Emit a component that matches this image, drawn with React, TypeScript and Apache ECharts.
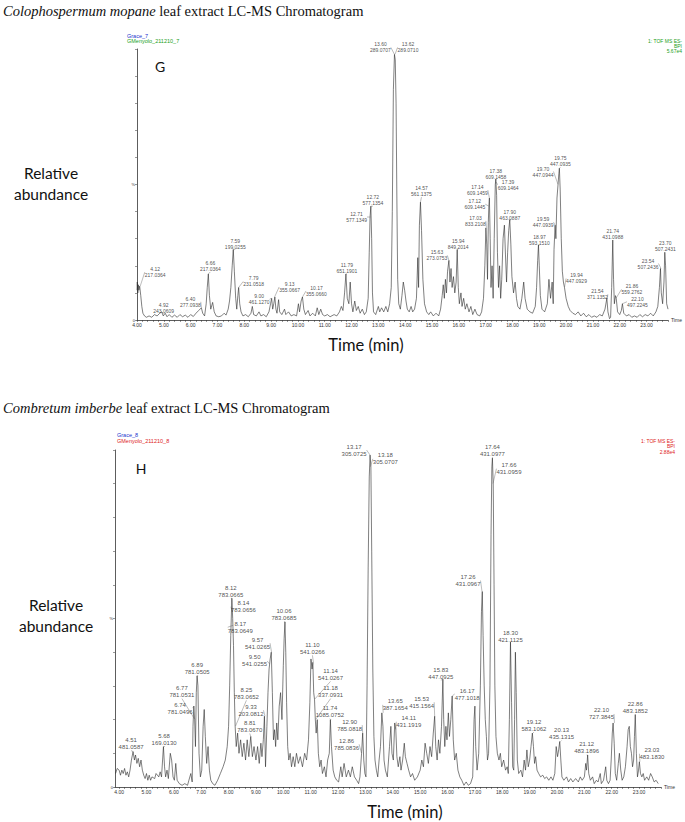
import React, { useEffect, useRef } from "react";
import * as echarts from "echarts";

// ---------- Chart G: Colophospermum mopane ----------
const gTrace: [number, number][] = [
  [4.0, 11], [4.01, 14], [4.03, 10], [4.05, 13], [4.07, 11], [4.10, 12.5], [4.14, 9], [4.18, 5], [4.22, 2.5], [4.28, 1.5],
  [4.35, 1], [4.45, 1.5], [4.55, 1], [4.65, 2], [4.75, 1.5], [4.85, 2.5], [4.92, 3], [4.98, 1.5], [5.05, 2.5], [5.12, 1.2],
  [5.2, 2], [5.3, 1], [5.4, 1.8], [5.5, 1], [5.6, 2], [5.7, 1.2], [5.8, 1.8], [5.9, 1], [6.0, 2], [6.1, 1.3],
  [6.2, 2.5], [6.3, 3.5], [6.4, 4.5], [6.45, 2.5], [6.52, 1.5], [6.58, 6], [6.62, 12], [6.66, 17], [6.70, 9], [6.75, 4],
  [6.82, 6.5], [6.88, 3], [6.95, 1.5], [7.05, 1.2], [7.15, 1.5], [7.25, 2.5], [7.32, 1.8], [7.40, 4], [7.45, 7], [7.50, 12],
  [7.55, 20], [7.59, 26], [7.63, 18], [7.68, 8], [7.72, 4], [7.76, 9], [7.79, 12], [7.83, 6], [7.88, 3], [7.95, 1.5],
  [8.05, 2], [8.15, 1.2], [8.25, 2.5], [8.30, 5], [8.35, 2], [8.45, 1.5], [8.55, 3], [8.62, 1.5], [8.72, 2], [8.82, 1.2],
  [8.92, 3], [8.98, 6], [9.02, 8], [9.06, 4], [9.10, 6], [9.14, 8.5], [9.18, 4], [9.22, 2.5], [9.28, 7.5], [9.32, 3],
  [9.40, 2], [9.5, 4], [9.55, 2], [9.65, 3], [9.75, 1.5], [9.85, 2], [9.95, 1.5], [10.02, 6], [10.06, 3], [10.12, 7],
  [10.17, 8.5], [10.22, 4], [10.28, 2], [10.38, 3.5], [10.45, 1.5], [10.55, 2.5], [10.65, 1.5], [10.72, 4.5], [10.78, 2], [10.85, 4],
  [10.92, 2], [11.0, 1.5], [11.1, 2], [11.2, 1.2], [11.35, 2], [11.45, 1.5], [11.55, 3], [11.62, 5], [11.68, 3.5], [11.74, 10],
  [11.79, 17], [11.84, 8], [11.90, 6], [11.95, 14], [12.0, 6], [12.05, 3], [12.12, 7], [12.18, 3.5], [12.25, 5], [12.32, 2.5],
  [12.4, 4], [12.48, 2], [12.55, 3], [12.62, 8], [12.66, 25], [12.69, 38], [12.72, 42], [12.75, 30], [12.78, 10], [12.82, 3],
  [12.9, 2], [13.0, 5], [13.05, 3], [13.12, 4.5], [13.2, 3], [13.28, 5], [13.35, 3], [13.42, 6], [13.48, 12], [13.52, 40],
  [13.56, 85], [13.60, 98], [13.63, 96], [13.66, 80], [13.69, 45], [13.72, 15], [13.76, 6], [13.82, 4], [13.88, 9], [13.93, 14],
  [13.98, 11], [14.03, 7], [14.08, 4], [14.15, 3], [14.22, 5], [14.28, 3], [14.35, 4], [14.42, 8], [14.47, 23], [14.50, 12],
  [14.53, 35], [14.57, 43.5], [14.61, 33], [14.66, 15], [14.72, 6], [14.80, 3], [14.88, 2], [14.95, 3], [15.05, 1.5], [15.15, 2.5],
  [15.25, 1.5], [15.32, 4], [15.38, 9], [15.42, 13], [15.46, 8], [15.5, 15], [15.54, 10], [15.58, 18], [15.63, 22], [15.67, 14],
  [15.71, 19], [15.75, 12], [15.8, 16], [15.85, 10], [15.9, 14], [15.94, 26], [15.98, 12], [16.02, 6], [16.08, 10], [16.12, 5],
  [16.18, 8], [16.24, 4], [16.30, 6], [16.38, 3], [16.45, 5], [16.52, 2], [16.6, 4], [16.68, 2], [16.78, 1.5], [16.85, 3],
  [16.92, 8], [16.97, 20], [17.01, 34], [17.04, 28], [17.07, 15], [17.1, 36], [17.12, 42], [17.14, 45], [17.17, 30], [17.2, 12],
  [17.24, 20], [17.28, 8], [17.32, 30], [17.36, 50], [17.38, 52], [17.41, 46], [17.44, 25], [17.48, 12], [17.52, 20], [17.56, 8],
  [17.6, 15], [17.65, 30], [17.70, 35], [17.74, 24], [17.78, 14], [17.82, 25], [17.86, 33], [17.90, 37], [17.94, 28], [17.98, 16],
  [18.04, 10], [18.1, 14], [18.15, 8], [18.2, 5], [18.28, 4], [18.35, 8], [18.42, 14], [18.47, 8], [18.55, 4], [18.65, 3],
  [18.75, 2.5], [18.85, 5], [18.90, 12], [18.94, 22], [18.97, 27.7], [19.0, 20], [19.04, 9], [19.1, 4], [19.2, 3], [19.3, 6],
  [19.36, 15], [19.42, 8], [19.48, 14], [19.52, 6], [19.55, 26], [19.59, 35], [19.62, 30], [19.66, 45], [19.70, 50], [19.73, 54],
  [19.75, 56], [19.78, 48], [19.82, 30], [19.86, 18], [19.90, 14], [19.94, 12], [20.0, 8], [20.08, 5], [20.15, 3.5], [20.25, 2.5],
  [20.35, 2], [20.45, 3], [20.55, 1.5], [20.65, 2.5], [20.75, 1.2], [20.85, 2], [20.95, 1], [21.05, 1.5], [21.15, 1], [21.25, 2],
  [21.35, 1.5], [21.45, 4], [21.52, 8], [21.56, 3], [21.62, 0.5], [21.66, 1], [21.70, 12], [21.74, 29.5], [21.77, 15], [21.80, 6],
  [21.84, 9], [21.87, 8], [21.92, 3], [22.0, 2], [22.06, 3.5], [22.10, 6], [22.15, 2.5], [22.25, 1.5], [22.35, 2], [22.45, 1],
  [22.55, 1.5], [22.65, 1], [22.75, 2], [22.85, 1.2], [22.95, 2], [23.05, 1.5], [23.15, 2.5], [23.25, 1.5], [23.35, 3], [23.42, 5],
  [23.48, 12], [23.52, 19], [23.55, 10], [23.60, 6], [23.65, 14], [23.68, 25], [23.71, 20], [23.75, 6], [23.8, 4],
];

const gPeakRt = [4.12, 4.92, 6.40, 6.66, 7.59, 7.79, 9.00, 9.13, 10.17, 11.79, 12.71, 12.72, 13.60, 13.62, 14.57, 15.63, 15.94,
  17.03, 17.12, 17.14, 17.38, 17.39, 17.90, 18.97, 19.59, 19.70, 19.75, 19.94, 21.54, 21.74, 21.86, 22.10, 23.54, 23.70];
const gPeakMz = ["217.0364", "243.0609", "277.0938", "217.0364", "199.0255", "231.0518", "461.1270", "355.0667", "355.0660",
  "651.1901", "577.1349", "577.1354", "289.0707", "289.0710", "561.1375", "273.0753", "849.2014", "833.2108", "609.1445",
  "609.1459", "609.1458", "609.1464", "463.0887", "593.1510", "447.0939", "447.0944", "447.0935", "447.0929", "371.1352",
  "431.0988", "559.2762", "497.2245", "507.2436", "507.2431"];
const gPeakAbund = [12.5, 3, 4.5, 17, 26, 12, 8, 8.5, 8.5, 17, 38, 42, 98, 98, 43.5, 22, 26, 34, 42, 45, 52, 51, 37, 27.7, 35, 50,
  56, 12, 8, 29.5, 8, 6, 19, 25];
// layout: label offsets in px from the peak point
const gLabelOffset = [[15, -14], [2, -4], [-11, -6], [2, -8], [2, -6], [15, -6], [-12, 1], [15, -10], [14, -6], [1, -6], [-14, 0],
  [2, -6], [-14, -7], [13, -7], [1, -11], [-12, -5], [1, -6], [-11, -7], [-14, -2], [-12, -8], [0, -5], [12, 3], [0, -5], [1, -5],
  [-12, -3], [-15, -13], [1, -7], [12, -9], [-10, -4], [0, -6], [16, -9], [15, -2], [-13, -5], [0, -6]];

// ---------- Chart H: Combretum imberbe ----------
const hTrace: [number, number][] = [
  [3.87, 4], [3.93, 5.5], [4.0, 5], [4.05, 3.5], [4.1, 5], [4.15, 4], [4.2, 5.5], [4.25, 3.5], [4.3, 4.5], [4.35, 3],
  [4.4, 5], [4.45, 8], [4.51, 10.5], [4.56, 8], [4.6, 9.5], [4.65, 7], [4.7, 8.5], [4.75, 6], [4.8, 8], [4.85, 5],
  [4.9, 3.5], [4.95, 2.5], [5.0, 4], [5.05, 2], [5.1, 3.5], [5.15, 2], [5.2, 3], [5.3, 2.5], [5.35, 4], [5.45, 3],
  [5.5, 4.5], [5.55, 3], [5.62, 12], [5.66, 6], [5.7, 3], [5.75, 5], [5.8, 2.5], [5.87, 10], [5.92, 8], [5.97, 3],
  [6.02, 2], [6.07, 7], [6.12, 2], [6.2, 1], [6.3, 0.5], [6.4, 1], [6.5, 0.5], [6.55, 2], [6.62, 4], [6.67, 1.5],
  [6.70, 18], [6.73, 24], [6.76, 20], [6.79, 12], [6.82, 28], [6.85, 33], [6.88, 30], [6.92, 10], [6.97, 3], [7.02, 5],
  [7.07, 18], [7.11, 23], [7.15, 15], [7.2, 7], [7.25, 12], [7.3, 5], [7.35, 2], [7.42, 1], [7.5, 0.5], [7.6, 2],
  [7.7, 4], [7.8, 6], [7.88, 8], [7.95, 12], [8.0, 18], [8.04, 30], [8.08, 45], [8.12, 56], [8.15, 50], [8.18, 42],
  [8.21, 28], [8.24, 18], [8.28, 12], [8.33, 16], [8.38, 10], [8.44, 14], [8.5, 9], [8.56, 13], [8.62, 8], [8.68, 14],
  [8.74, 9], [8.81, 15], [8.87, 9], [8.93, 12], [9.0, 8], [9.06, 12], [9.12, 7], [9.18, 13], [9.22, 9], [9.27, 14],
  [9.31, 21], [9.35, 6], [9.4, 18], [9.44, 28], [9.48, 35], [9.52, 38], [9.56, 40], [9.6, 28], [9.64, 14], [9.68, 17],
  [9.72, 12], [9.76, 19], [9.8, 14], [9.85, 24], [9.9, 28], [9.95, 20], [10.0, 36], [10.03, 44], [10.06, 49], [10.09, 40],
  [10.12, 25], [10.16, 12], [10.2, 8], [10.25, 10], [10.3, 6], [10.36, 9], [10.42, 6], [10.48, 10], [10.55, 7], [10.62, 9],
  [10.7, 6], [10.78, 10], [10.85, 8], [10.92, 14], [10.97, 25], [11.01, 38], [11.05, 35], [11.08, 37], [11.11, 28], [11.14, 26],
  [11.17, 20], [11.2, 16], [11.24, 20], [11.28, 10], [11.33, 6], [11.38, 8], [11.43, 4], [11.5, 6], [11.56, 3], [11.62, 8],
  [11.68, 10], [11.72, 20], [11.76, 12], [11.82, 5], [11.88, 3], [11.95, 2], [12.02, 1.5], [12.1, 6], [12.15, 3], [12.22, 7],
  [12.3, 3], [12.38, 5], [12.45, 3], [12.52, 6], [12.6, 3], [12.68, 2], [12.75, 1], [12.8, 3], [12.86, 10], [12.9, 16],
  [12.94, 8], [12.98, 4], [13.02, 3], [13.06, 30], [13.1, 65], [13.14, 92], [13.17, 98.5], [13.20, 95], [13.23, 70], [13.27, 35],
  [13.31, 15], [13.35, 8], [13.4, 5], [13.45, 3], [13.5, 8], [13.55, 12], [13.6, 22], [13.64, 18], [13.68, 8], [13.73, 5],
  [13.8, 3], [13.88, 12], [13.93, 18], [13.97, 10], [14.02, 8], [14.07, 19], [14.11, 17], [14.15, 9], [14.2, 6], [14.26, 9],
  [14.3, 5], [14.36, 8], [14.42, 13], [14.46, 9], [14.52, 7], [14.58, 5], [14.65, 3], [14.72, 4], [14.8, 2], [14.9, 3],
  [15.0, 5], [15.06, 8], [15.12, 6], [15.18, 13], [15.24, 10], [15.3, 7], [15.36, 12], [15.42, 9], [15.48, 16], [15.53, 21],
  [15.57, 12], [15.62, 8], [15.67, 14], [15.72, 10], [15.78, 18], [15.83, 32], [15.86, 20], [15.9, 12], [15.94, 18], [15.98, 14],
  [16.03, 22], [16.07, 15], [16.12, 20], [16.17, 27], [16.21, 14], [16.26, 8], [16.32, 10], [16.38, 5], [16.45, 3], [16.52, 2],
  [16.6, 0.5], [16.68, 1.5], [16.76, 0.5], [16.84, 1], [16.92, 3], [16.97, 20], [17.0, 24], [17.03, 12], [17.08, 5], [17.14, 10],
  [17.2, 30], [17.24, 52], [17.27, 58], [17.3, 45], [17.34, 30], [17.38, 20], [17.42, 15], [17.46, 8], [17.5, 10], [17.55, 30],
  [17.59, 75], [17.62, 95], [17.64, 97.6], [17.67, 90], [17.7, 60], [17.73, 30], [17.77, 15], [17.82, 10], [17.88, 8], [17.93, 10],
  [17.98, 6], [18.05, 8], [18.12, 5], [18.18, 6], [18.22, 4], [18.26, 20], [18.3, 43], [18.34, 25], [18.38, 6], [18.42, 5],
  [18.45, 20], [18.48, 40], [18.51, 28], [18.55, 8], [18.6, 4], [18.68, 5], [18.74, 3], [18.8, 8], [18.85, 5], [18.9, 11],
  [18.95, 6], [19.0, 8], [19.05, 12], [19.1, 16], [19.14, 12], [19.18, 7], [19.22, 9], [19.27, 5], [19.33, 4], [19.4, 3],
  [19.48, 3.5], [19.55, 2.5], [19.62, 3], [19.7, 2], [19.78, 3], [19.85, 2], [19.92, 4], [19.97, 12], [20.02, 9], [20.06, 11],
  [20.1, 13.5], [20.14, 8], [20.18, 3], [20.25, 2], [20.35, 3], [20.42, 1.5], [20.5, 2.5], [20.58, 1.5], [20.68, 2.5], [20.78, 1.5],
  [20.85, 3], [20.92, 2], [21.0, 3], [21.05, 7], [21.08, 5], [21.12, 9.5], [21.16, 4], [21.22, 2], [21.3, 3], [21.36, 1],
  [21.44, 2], [21.5, 1.5], [21.58, 4], [21.62, 1], [21.7, 2], [21.78, 6], [21.82, 2], [21.88, 1], [21.94, 2], [21.98, 8],
  [22.02, 16], [22.05, 19], [22.09, 13], [22.13, 4], [22.18, 2], [22.24, 7], [22.28, 10], [22.33, 5], [22.38, 2], [22.44, 3],
  [22.5, 6], [22.56, 12], [22.6, 17], [22.64, 18], [22.68, 12], [22.72, 10], [22.76, 6], [22.8, 8], [22.83, 15], [22.86, 21.5],
  [22.9, 10], [22.94, 3], [22.98, 5], [23.01, 7.5], [23.05, 4], [23.1, 3], [23.15, 4], [23.2, 2], [23.28, 3], [23.35, 2],
  [23.42, 4], [23.48, 3], [23.55, 1.5], [23.62, 2], [23.7, 1],
];

const hPeakRt = [4.51, 5.68, 6.74, 6.77, 6.89, 8.12, 8.14, 8.17, 8.25, 8.81, 9.33, 9.50, 9.57, 10.06, 11.10, 11.14, 11.18, 11.74,
  12.86, 12.90, 13.17, 13.18, 13.65, 14.11, 15.53, 15.83, 16.17, 17.26, 17.64, 17.66, 18.30, 19.12, 20.13, 21.12, 22.10, 22.86, 23.03];
const hPeakMz = ["481.0587", "169.0130", "781.0496", "781.0531", "781.0505", "783.0665", "783.0656", "783.0649", "783.0652",
  "783.0670", "203.0812", "541.0255", "541.0265", "783.0685", "541.0266", "541.0267", "337.0931", "1085.0752", "785.0836",
  "785.0818", "305.0725", "305.0707", "387.1654", "431.1919", "415.1564", "447.0925", "477.1018", "431.0967", "431.0977",
  "431.0959", "421.1125", "583.1062", "435.1315", "483.1896", "727.3845", "483.1852", "483.1830"];
const hPeakAbund = [10.5, 12, 24, 20, 33, 56, 52, 48, 18, 15, 21, 36.5, 40, 49, 37, 26, 20, 20, 10, 16, 98.5, 95, 22, 17, 21, 32, 27,
  58, 97.6, 90, 43, 16, 13.5, 9.5, 19, 21.5, 7.5];
const hLabelOffset = [[-2, -8], [-1, -7], [-14, 2], [-13, -28], [-1, -7], [-1, -7], [11, -5], [7, 2], [11, -33], [-1, -10], [-14, -6],
  [-15, -3], [-14, -9], [-1, -7], [-1, -14], [16, -25], [15, -28], [-1, -8], [-15, -9], [-13, -8], [-16, -5], [15, -8], [12, -8],
  [13, -8], [-13, -14], [-2, -6], [15, -2], [-14, -11], [0, -8], [16, -15], [0, -6], [1, -8], [1, -8], [-1, -7], [-13, -9], [0, -7],
  [12, -8]];

const timeLabels = [4, 5, 6, 7, 8, 9, 10, 11, 12, 13, 14, 15, 16, 17, 18, 19, 20, 21, 22, 23];

function minorTicks(from: number, to: number, step: number) {
  const out: number[] = [];
  for (let v = from; v <= to + 1e-9; v += step) out.push(Math.round(v * 100) / 100);
  return out;
}

const SMALL = "Liberation Sans";

function xAxisDef(gridIndex: number, min: number, max: number) {
  return {
    type: "value",
    gridIndex,
    min,
    max,
    name: "Time",
    nameLocation: "end",
    nameGap: 3,
    nameTextStyle: { fontSize: 5, color: "#333", fontFamily: SMALL, verticalAlign: "middle" },
    axisLine: { show: true, lineStyle: { color: "#333", width: 0.8 } },
    axisTick: { show: true, length: 2, lineStyle: { color: "#333", width: 0.5 }, customValues: minorTicks(4, 23.8, 0.2) },
    axisLabel: {
      show: true,
      fontSize: 5,
      color: "#333",
      fontFamily: SMALL,
      margin: 2,
      customValues: timeLabels,
      formatter: (v: number) => v.toFixed(2),
    },
    splitLine: { show: false },
  };
}

function yAxisDef(gridIndex: number) {
  return {
    type: "value",
    gridIndex,
    min: 0,
    max: 100,
    interval: 10,
    axisLine: { show: true, lineStyle: { color: "#333", width: 0.8 } },
    axisTick: { show: true, length: 2, lineStyle: { color: "#333", width: 0.5 } },
    axisLabel: {
      show: true,
      fontSize: 4,
      color: "#333",
      fontFamily: SMALL,
      margin: 2,
      formatter: (v: number) => (v === 0 ? "0" : v === 50 ? "%" : ""),
    },
    splitLine: { show: false },
  };
}

function labelSeries(idx: number, rt: number[], ab: number[], mz: string[], off: number[][], fs: number, lh: number) {
  return {
    type: "scatter",
    xAxisIndex: idx,
    yAxisIndex: idx,
    symbolSize: 0.1,
    silent: true,
    itemStyle: { color: "rgba(0,0,0,0)" },
    data: rt.map((t, i) => [t, ab[i]]),
    label: {
      show: true,
      position: "inside",
      align: "center",
      verticalAlign: "middle",
      fontSize: fs,
      lineHeight: lh,
      color: "#222",
      fontFamily: SMALL,
      formatter: (p: any) => `${rt[p.dataIndex].toFixed(2)}\n${mz[p.dataIndex]}`,
    },
    labelLayout: (p: any) => ({ dx: off[p.dataIndex][0], dy: off[p.dataIndex][1] }),
    labelLine: { show: true, lineStyle: { color: "#555", width: 0.4 } },
    z: 5,
  };
}

function traceSeries(idx: number, data: [number, number][]) {
  return {
    type: "line",
    xAxisIndex: idx,
    yAxisIndex: idx,
    data,
    showSymbol: false,
    symbol: "none",
    silent: true,
    lineStyle: { color: "#2a2a2a", width: 0.6 },
  };
}

const serif = "Liberation Serif";
const sans = "Lato";

function titleText(y: number, species: string) {
  return {
    type: "text",
    left: 3,
    top: y,
    style: {
      text: `{i|${species}}{n| leaf extract LC-MS Chromatogram}`,
      rich: {
        i: { fontFamily: serif, fontStyle: "italic", fontSize: 14.5, fill: "#111" },
        n: { fontFamily: serif, fontSize: 14.5, fill: "#111" },
      },
    },
  };
}

function smallText(x: number, y: number, text: string, color: string, size = 5, align = "left") {
  return {
    type: "text",
    x,
    y,
    style: { text, fontSize: size, fontFamily: SMALL, fill: color, align, verticalAlign: "middle" },
  };
}

function bigText(x: number, y: number, text: string, size: number, lh = size * 1.25) {
  return {
    type: "text",
    x,
    y,
    style: { text, fontSize: size, fontFamily: sans, fill: "#111", align: "center", verticalAlign: "middle", lineHeight: lh },
  };
}

const option: any = {
  animation: false,
  backgroundColor: "#ffffff",
  grid: [
    { left: 137, top: 49, width: 531, height: 271 },
    { left: 115, top: 450, width: 546, height: 337 },
  ],
  xAxis: [xAxisDef(0, 4, 23.8), xAxisDef(1, 3.85, 23.8)],
  yAxis: [yAxisDef(0), yAxisDef(1)],
  series: [
    traceSeries(0, gTrace),
    traceSeries(1, hTrace),
    labelSeries(0, gPeakRt, gPeakAbund, gPeakMz, gLabelOffset, 5, 6),
    labelSeries(1, hPeakRt, hPeakAbund, hPeakMz, hLabelOffset, 6, 7),
  ],
  graphic: [
    titleText(3, "Colophospermum mopane"),
    titleText(400, "Combretum imberbe"),
    smallText(127, 36, "Grace_7", "#2233cc", 5.5),
    smallText(127, 41, "GMenyolo_211210_7", "#22a022", 5.5),
    smallText(682, 41, "1: TOF MS ES-", "#22a022", 5, "right"),
    smallText(682, 46, "BPI", "#22a022", 5, "right"),
    smallText(682, 50.5, "5.67e4", "#22a022", 5, "right"),
    smallText(117, 435, "Grace_8", "#2233cc", 5.5),
    smallText(117, 441, "GMenyolo_211210_8", "#dd2222", 5.5),
    smallText(675, 441, "1: TOF MS ES-", "#dd2222", 5, "right"),
    smallText(675, 446, "BPI", "#dd2222", 5, "right"),
    smallText(675, 451.5, "2.88e4", "#dd2222", 5, "right"),
    bigText(160, 66, "G", 14),
    bigText(141, 468, "H", 14),
    bigText(51, 183.5, "Relative\nabundance", 15.5, 21),
    bigText(56, 615, "Relative\nabundance", 15.5, 21),
    bigText(366, 345, "Time (min)", 16.5),
    bigText(405, 812, "Time (min)", 16.5),
  ],
};

export default function App() {
  const ref = useRef<HTMLDivElement>(null);
  useEffect(() => {
    const chart = echarts.init(ref.current!, null, { renderer: "svg" });
    chart.setOption(option);
    return () => chart.dispose();
  }, []);
  return (
    <div
      ref={ref}
      style={{ position: "absolute", left: 0, top: 0, width: 685, height: 822, background: "#fff" }}
    />
  );
}
